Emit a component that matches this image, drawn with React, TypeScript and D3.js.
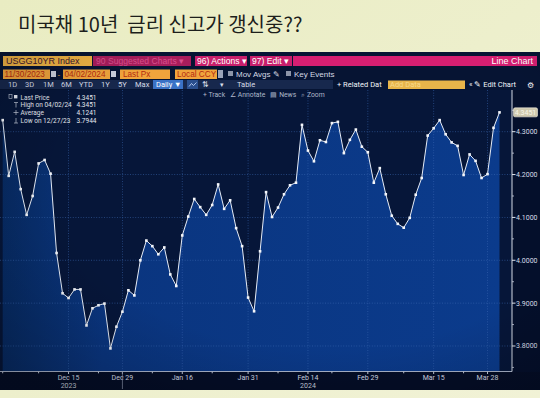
import React from 'react';
import * as d3 from 'd3';

// trading days shown on the chart (holidays left out, as the terminal does)
const dates = [
    '2023-11-30',
    '2023-12-01', '2023-12-04', '2023-12-05', '2023-12-06', '2023-12-07', '2023-12-08', '2023-12-11', '2023-12-12',
    '2023-12-13', '2023-12-14', '2023-12-15', '2023-12-18', '2023-12-19', '2023-12-20', '2023-12-21', '2023-12-22',
    '2023-12-26', '2023-12-27', '2023-12-28', '2023-12-29',
    '2024-01-02', '2024-01-03', '2024-01-04', '2024-01-05', '2024-01-08', '2024-01-09', '2024-01-10', '2024-01-11',
    '2024-01-12', '2024-01-16', '2024-01-17', '2024-01-18', '2024-01-19', '2024-01-22', '2024-01-23', '2024-01-24',
    '2024-01-25', '2024-01-26', '2024-01-29', '2024-01-30', '2024-01-31',
    '2024-02-01', '2024-02-02', '2024-02-05', '2024-02-06', '2024-02-07', '2024-02-08', '2024-02-09', '2024-02-12',
    '2024-02-13', '2024-02-14', '2024-02-15', '2024-02-16', '2024-02-20', '2024-02-21', '2024-02-22', '2024-02-23',
    '2024-02-26', '2024-02-27', '2024-02-28', '2024-02-29',
    '2024-03-01', '2024-03-04', '2024-03-05', '2024-03-06', '2024-03-07', '2024-03-08', '2024-03-11', '2024-03-12',
    '2024-03-13', '2024-03-14', '2024-03-15', '2024-03-18', '2024-03-19', '2024-03-20', '2024-03-21', '2024-03-22',
    '2024-03-25', '2024-03-26', '2024-03-27', '2024-03-28',
    '2024-04-01', '2024-04-02',
];

// USGG10YR last px
const yields = [
    4.327,
    4.197, 4.253, 4.166, 4.106, 4.150, 4.226, 4.234, 4.202,
    4.017, 3.923, 3.912, 3.932, 3.932, 3.848, 3.888, 3.895,
    3.899, 3.7944, 3.845, 3.880,
    3.930, 3.918, 4.000, 4.046, 4.033, 4.014, 4.030, 3.967,
    3.940, 4.058, 4.102, 4.143, 4.124, 4.106, 4.129, 4.177,
    4.120, 4.140, 4.075, 4.033, 3.913,
    3.881, 4.021, 4.159, 4.101, 4.123, 4.154, 4.175, 4.181,
    4.316, 4.256, 4.231, 4.280, 4.276, 4.320, 4.323, 4.250,
    4.281, 4.305, 4.265, 4.252,
    4.181, 4.215, 4.154, 4.104, 4.085, 4.076, 4.099, 4.153,
    4.192, 4.291, 4.308, 4.327, 4.294, 4.275, 4.267, 4.199,
    4.247, 4.232, 4.192, 4.201,
    4.309, 4.3451,
];

const yTicks = [3.8, 3.9, 4.0, 4.1, 4.2, 4.3];
const yMinorTicks = [3.75, 3.85, 3.95, 4.05, 4.15, 4.25, 4.35];
const xTickDates = ['2023-12-15', '2023-12-29', '2024-01-16', '2024-01-31', '2024-02-14', '2024-02-29', '2024-03-15', '2024-03-28'];
const xTickLabels = ['Dec 15', 'Dec 29', 'Jan 16', 'Jan 31', 'Feb 14', 'Feb 29', 'Mar 15', 'Mar 28'];
const xMinorDates = ['2023-11-30', '2023-12-08', '2023-12-22', '2024-01-08', '2024-01-23', '2024-02-07', '2024-02-21', '2024-03-08', '2024-03-22'];
const yearLabels = ['2023', '2024'];
const yearDates = ['2023-12-15', '2024-02-14'];
const yearBreak = '2023-12-29';

const legendLabels = ['Last Price', 'High on 04/02/24', 'Average', 'Low on 12/27/23'];
const legendValues = ['4.3451', '4.3451', '4.1241', '3.7944'];
const lastLabel = '4.3451';

const title = '미국채 10년  금리 신고가 갱신중??';

const W = 540, H = 398;
const panelTop = 52, panelBottom = 390;
const plot = { left: 0, right: 512, top: 90, bottom: 371.5 };
const narrow = "'Liberation Sans Narrow', Roboto, sans-serif";
const wide = "'Liberation Sans', Arial, sans-serif";

export default function App() {
    // x: one slot per trading day
    const x = d3.scalePoint<string>().domain(dates).range([2.7, 499.5]).padding(0);
    const y = d3.scaleLinear().domain([3.7405, 4.3973]).range([plot.bottom, plot.top]);

    const pts = dates.map((d, i) => ({ d, v: yields[i] }));
    const line = d3.line<{ d: string; v: number }>().x(p => x(p.d)!).y(p => y(p.v));
    const area = d3.area<{ d: string; v: number }>().x(p => x(p.d)!).y0(plot.bottom).y1(p => y(p.v));

    const fmt = d3.format('.4f');

    // toolbar pieces
    const btn = (x0: number, w: number, fill: string, label: string, color: string, tx = 3, size = 9, y0 = 56, h = 10) => (
        <g key={label + x0}>
            <rect x={x0} y={y0} width={w} height={h} fill={fill} />
            <text x={x0 + tx} y={y0 + h - 2} fill={color} fontSize={size} fontFamily={wide}>{label}</text>
        </g>
    );

    const periods = ['1D', '3D', '1M', '6M', 'YTD', '1Y', '5Y', 'Max'];
    const periodX = [8, 25, 43, 61, 79, 101, 118, 135];

    return (
        <svg width={W} height={H} style={{ position: 'absolute', left: 0, top: 0 }}>
            <defs>
                <linearGradient id="page" x1="0" y1="0" x2="1" y2="1">
                    <stop offset="0" stopColor="#e9ecc2" />
                    <stop offset="1" stopColor="#f1f2d6" />
                </linearGradient>
                <linearGradient id="fillArea" x1="0" y1="0" x2="1" y2="0">
                    <stop offset="0" stopColor="#072b64" />
                    <stop offset="0.2" stopColor="#0a357f" />
                    <stop offset="1" stopColor="#0b3b8c" />
                </linearGradient>
                <radialGradient id="vig" cx="0.6" cy="0.4" r="0.8">
                    <stop offset="0.6" stopColor="#000" stopOpacity="0" />
                    <stop offset="1" stopColor="#000" stopOpacity="0.22" />
                </radialGradient>
                <clipPath id="plotClip">
                    <rect x={plot.left} y={plot.top} width={plot.right - plot.left} height={plot.bottom - plot.top} />
                </clipPath>
            </defs>

            <rect width={W} height={H} fill="url(#page)" />
            <text x={18} y={32} fontSize={20} fill="#1d1f1c" style={{ whiteSpace: 'pre' }}
                fontFamily="'Noto Sans CJK KR', 'Noto Sans', sans-serif">{title}</text>

            {/* terminal panel */}
            <rect x={0} y={panelTop} width={W} height={panelBottom - panelTop} fill="#061433" />
            <rect x={0} y={plot.top} width={plot.right} height={plot.bottom - plot.top} fill="#061639" />

            {/* row: ticker + menus */}
            {btn(3, 89, '#f0b445', 'USGG10YR Index', '#3b1530')}
            {btn(93, 98, '#a81d5c', '90 Suggested Charts ▾', '#d8508e', 3, 8.6)}
            {btn(195, 52, '#c81f6c', '96) Actions ▾', '#ffffff', 2, 8.6)}
            {btn(250, 42, '#c81f6c', '97) Edit ▾', '#ffffff', 2, 8.6)}
            <rect x={293} y={56} width={244} height={10} fill="#d61f72" />
            <text x={533} y={64} fill="#fff" fontSize={9} textAnchor="end" fontFamily={wide}>Line Chart</text>

            {/* row: dates */}
            {btn(3, 47, '#f0a43c', '11/30/2023', '#b42a10', 1.5, 8.2, 69.5, 9.5)}
            <rect x={51} y={71} width={5} height={6} fill="#c9cfdc" />
            <text x={57.5} y={77} fill="#f0a43c" fontSize={8} fontFamily={wide}>-</text>
            {btn(63, 47, '#f0a43c', '04/02/2024', '#b42a10', 1.5, 8.2, 69.5, 9.5)}
            <rect x={111} y={71} width={5} height={6} fill="#c9cfdc" />
            {btn(120, 50, '#f0a43c', 'Last Px', '#b42a10', 3, 8.2, 69.5, 9.5)}
            {btn(175, 42, '#f0a43c', 'Local CCY', '#b42a10', 2, 8.2, 69.5, 9.5)}
            <rect x={218} y={70} width={5} height={8} fill="#9aa3b8" />
            <rect x={228} y={71} width={5} height={5} fill="#8d95a8" />
            <text x={236} y={77} fill="#d4d9e4" fontSize={8} fontFamily={wide}>Mov Avgs ✎</text>
            <rect x={286} y={71} width={5} height={5} fill="#8d95a8" />
            <text x={294} y={77} fill="#d4d9e4" fontSize={8} fontFamily={wide}>Key Events</text>

            {/* row: periods */}
            <rect x={0} y={80} width={333} height={9} fill="#17284d" />
            {periods.map((p, i) => (
                <text key={p} x={periodX[i]} y={87} fill="#d8dde8" fontSize={7.5} fontFamily={narrow}>{p}</text>
            ))}
            <rect x={153} y={80} width={30} height={9} fill="#3a72c6" />
            <text x={156} y={87} fill="#fff" fontSize={7.5} fontFamily={narrow}>Daily ▼</text>
            <rect x={187} y={80} width={11} height={9} fill="#2a4f8e" />
            <path d="M189,86.5 L191.5,83.5 L193.5,85.5 L196.5,82.5" stroke="#cfe0ff" strokeWidth={0.8} fill="none" />
            <text x={202} y={87} fill="#d8dde8" fontSize={7.5} fontFamily={narrow}>⇅</text>
            <text x={220} y={87} fill="#d8dde8" fontSize={7} fontFamily={narrow}>▾</text>
            <text x={237} y={87} fill="#d8dde8" fontSize={7.5} fontFamily={narrow}>Table</text>
            <text x={337} y={87} fill="#f2f4f8" fontSize={7.5} fontFamily={narrow}>+ Related Dat</text>
            <rect x={388} y={80.5} width={77} height={8.5} fill="#e8b54a" />
            <text x={390} y={87.3} fill="#f6d98c" fontSize={7.5} fontFamily={narrow}>Add Data</text>
            <text x={469} y={87} fill="#f2f4f8" fontSize={7.5} fontFamily={narrow}>«  ✎ Edit Chart</text>
            <text x={527} y={87.5} fill="#f2f4f8" fontSize={8} fontFamily={narrow}>⚙</text>

            {/* row: tools */}
            <text x={203} y={96.5} fill="#aeb7c9" fontSize={6.8} fontFamily={narrow} style={{ whiteSpace: 'pre' }}>+ Track   ∠ Annotate   ▤ News   ⌕ Zoom</text>

            {/* plot */}
            <g clipPath="url(#plotClip)">
                <path d={area(pts)!} fill="url(#fillArea)" />
                {yTicks.map(t => (
                    <line key={t} x1={plot.left} x2={plot.right} y1={y(t)} y2={y(t)}
                        stroke="#3d6cb4" strokeWidth={0.7} strokeDasharray="1,1.6" opacity={0.8} />
                ))}
                {xTickDates.map(d => (
                    <line key={d} x1={x(d)} x2={x(d)} y1={plot.top} y2={plot.bottom}
                        stroke="#3d6cb4" strokeWidth={0.7} strokeDasharray="1,1.6" opacity={0.8} />
                ))}
                <path d={line(pts)!} fill="none" stroke="#e6ecf6" strokeWidth={1} />
                {pts.map(p => (
                    <rect key={p.d} x={x(p.d)! - 1.3} y={y(p.v) - 1.3} width={2.6} height={2.6} fill="#f4f6fa" />
                ))}
            </g>

            {/* legend */}
            <g fontFamily={narrow} fontSize={6.5} fill="#e8ecf4">
                {legendLabels.map((l, i) => (
                    <g key={l} transform={`translate(0,${99.5 + i * 7.9})`}>
                        <text x={20.5} y={0}>{l}</text>
                        <text x={76.5} y={0}>{legendValues[i]}</text>
                    </g>
                ))}
                <rect x={9} y={94.5} width={3} height={4} fill="none" stroke="#c8cfdc" strokeWidth={0.6} />
                <rect x={14} y={95} width={3.4} height={3.4} fill="#e8ecf4" />
                <path d="M14,102.5 h4 M16,102.5 v5" stroke="#c8cfdc" strokeWidth={0.7} />
                <path d="M13.5,112.5 h5 M16,110 v5" stroke="#c8cfdc" strokeWidth={0.7} />
                <path d="M16,118 v5 M14,123 h4" stroke="#c8cfdc" strokeWidth={0.7} />
            </g>

            {/* x axis */}
            <rect x={0} y={plot.bottom} width={W} height={panelBottom - plot.bottom} fill="#040d26" />
            <line x1={0} x2={plot.right} y1={plot.bottom} y2={plot.bottom} stroke="#a8b2c8" strokeWidth={1} />
            {xMinorDates.map(d => (
                <line key={d} x1={x(d)} x2={x(d)} y1={plot.bottom} y2={plot.bottom + 1.8} stroke="#c4ccdc" strokeWidth={1} />
            ))}
            {xTickDates.map((d, i) => (
                <g key={d}>
                    <line x1={x(d)} x2={x(d)} y1={plot.bottom} y2={plot.bottom + 2.5} stroke="#c4ccdc" strokeWidth={1} />
                    <text x={x(d)} y={380} textAnchor="middle" fill="#d4dae6" fontSize={7} fontFamily={narrow}>{xTickLabels[i]}</text>
                </g>
            ))}
            {yearLabels.map((l, i) => (
                <text key={l} x={x(yearDates[i])} y={388} textAnchor="middle" fill="#c2c9d8" fontSize={7} fontFamily={narrow}>{l}</text>
            ))}
            <line x1={x(yearBreak)} x2={x(yearBreak)} y1={plot.bottom} y2={panelBottom - 1} stroke="#8d97ad" strokeWidth={0.7} />

            {/* y axis (right) */}
            <rect x={plot.right} y={plot.top} width={W - plot.right} height={plot.bottom - plot.top} fill="#040f2b" />
            <line x1={plot.right} x2={plot.right} y1={plot.top} y2={plot.bottom} stroke="#d4dae6" strokeWidth={1} />
            {yMinorTicks.map(t => (
                <line key={t} x1={plot.right} x2={plot.right + 2} y1={y(t)} y2={y(t)} stroke="#c4ccdc" strokeWidth={0.8} />
            ))}
            {yTicks.map(t => (
                <g key={t}>
                    <line x1={plot.right} x2={plot.right + 3.5} y1={y(t)} y2={y(t)} stroke="#e0e5ee" strokeWidth={1} />
                    <text x={plot.right + 4} y={y(t) + 2.5} fill="#d8dde8" fontSize={7} fontFamily={narrow}>{fmt(t)}</text>
                </g>
            ))}
            <rect x={plot.right + 1.5} y={y(yields[yields.length - 1]) - 4.5} width={24} height={9} rx={1.5}
                fill="#cfc9ae" stroke="#f2efe0" strokeWidth={0.6} />
            <text x={plot.right + 13.5} y={y(yields[yields.length - 1]) + 2.4} textAnchor="middle"
                fill="#f7f5ea" fontSize={7} fontFamily={narrow}>{lastLabel}</text>

            <rect x={0} y={panelTop} width={W} height={panelBottom - panelTop} fill="url(#vig)" />
        </svg>
    );
}
